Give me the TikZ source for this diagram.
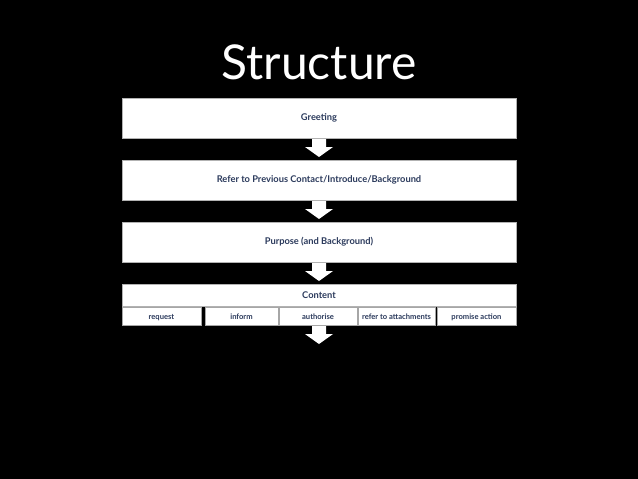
\documentclass[tikz,border=0pt]{standalone}
\usepackage{fontspec}
\setmainfont{Lato}
\definecolor{navy}{HTML}{2B3A5C}
\begin{document}
\begin{tikzpicture}[x=1pt,y=-1pt,
  bar/.style={draw=gray!60,fill=white,minimum width=394pt,inner sep=0pt,font=\bfseries\fontsize{9.3}{10}\selectfont,text=navy},
  sub/.style={draw=gray!70,fill=white,inner sep=0pt,minimum height=18pt,text height=1.5ex,text depth=.3ex,font=\bfseries\fontsize{7.6}{8}\selectfont,text=navy},
  arr/.style={fill=white,draw=none}]
\fill[black] (0,0) rectangle (638,479);
\node[font=\fontsize{48}{52}\selectfont,text=white] (title) at (319,62) {Structure};
\node[bar,minimum height=40pt] (b1) at (319,118) {Greeting};
\node[bar,minimum height=40pt] (b2) at (319,180) {Refer to Previous Contact/Introduce/Background};
\node[bar,minimum height=40pt] (b3) at (319,242) {Purpose (and Background)};
\node[bar,minimum height=22pt] (b4) at (319,295.5) {Content};
\node[sub,minimum width=79pt] (s1) at (161.5,316.5) {request};
\node[sub,minimum width=73pt] (s2) at (241.5,316.5) {inform};
\node[sub,minimum width=78pt] (s3) at (318,316.5) {authorise};
\node[sub,minimum width=77pt] (s4) at (396.5,316.5) {refer to attachments};
\node[sub,minimum width=79pt] (s5) at (476.5,316.5) {promise action};
\foreach \b in {139,201,263,326}{
  \fill[white] (312,\b) -- (326,\b) -- (326,\b+8) -- (333,\b+8) -- (319,\b+18) -- (305,\b+8) -- (312,\b+8) -- cycle;
}
\end{tikzpicture}
\end{document}
